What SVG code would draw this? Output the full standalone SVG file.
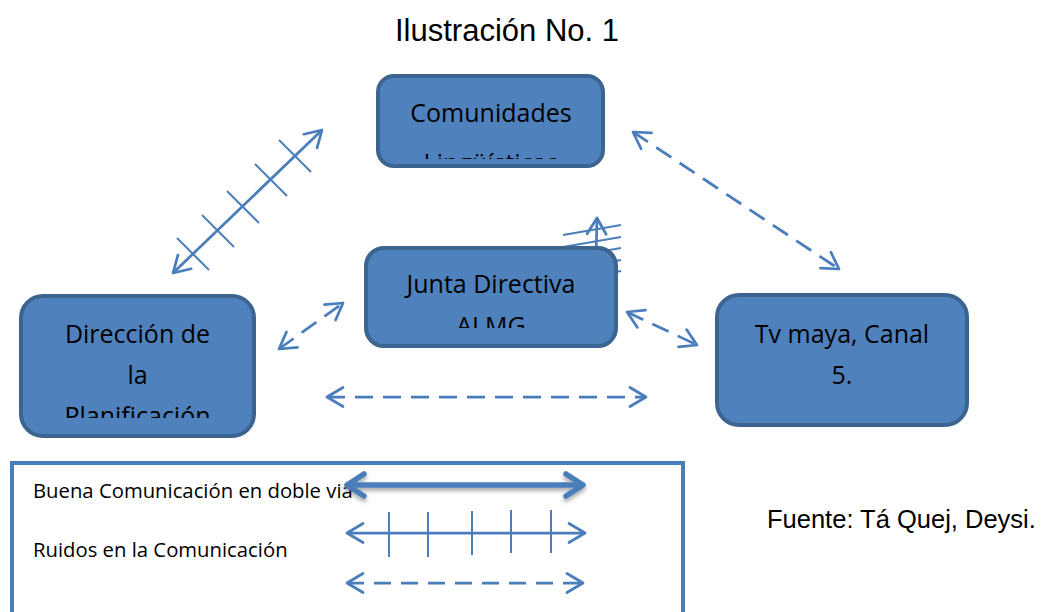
<svg xmlns="http://www.w3.org/2000/svg" width="1049" height="612" viewBox="0 0 1049 612">
<style>
.node rect{fill:#4f81bd;stroke:#3c6491;stroke-width:4}
.nt{font-family:"Open Sans","Noto Sans",sans-serif;font-size:25px;fill:#000;text-anchor:middle}
.lt{font-family:"Open Sans","Noto Sans",sans-serif;font-size:20.3px;fill:#000}
.ar{fill:none;stroke:#4a7ebb;stroke-width:2.75}
.dash{stroke-dasharray:18 10}
.tick{fill:none;stroke:#4a7ebb;stroke-width:2}
.ti{font-family:"Liberation Sans",Arial,sans-serif;fill:#000}
</style>
<defs>
<marker id="ah" markerUnits="userSpaceOnUse" markerWidth="40" markerHeight="40" viewBox="-20 -20 40 40" refX="0" refY="0" orient="auto-start-reverse" overflow="visible">
<path d="M-16,-9.5 L0,0 L-16,9.5" fill="none" stroke="#4a7ebb" stroke-width="2.75" stroke-linecap="round" stroke-linejoin="round"/>
</marker>
<marker id="ahb" markerUnits="userSpaceOnUse" markerWidth="50" markerHeight="50" viewBox="-25 -25 50 50" refX="0" refY="0" orient="auto-start-reverse" overflow="visible">
<path d="M-17,-11 L0,0 L-17,11" fill="none" stroke="#4a7ebb" stroke-width="5.5" stroke-linecap="round" stroke-linejoin="round"/>
</marker>
<filter id="sh" filterUnits="userSpaceOnUse" x="320" y="460" width="290" height="50">
<feDropShadow dx="0" dy="3" stdDeviation="2" flood-color="#000" flood-opacity="0.35"/>
</filter>
<clipPath id="c1"><rect x="378" y="76" width="225" height="83"/></clipPath>
<clipPath id="c2"><rect x="366" y="248" width="250" height="80"/></clipPath>
<clipPath id="c3"><rect x="21" y="296" width="233" height="122"/></clipPath>
</defs>

<text class="ti" x="507" y="41" font-size="31" text-anchor="middle">Ilustración No. 1</text>

<g id="connectors">
<line class="ar" x1="173" y1="273" x2="322" y2="130" marker-start="url(#ah)" marker-end="url(#ah)"/>
<g class="tick">
<line x1="177" y1="238" x2="209" y2="270"/>
<line x1="202" y1="215" x2="234" y2="247"/>
<line x1="227" y1="191" x2="259" y2="223"/>
<line x1="255" y1="164" x2="287" y2="196"/>
<line x1="279" y1="140" x2="311" y2="172"/>
</g>
<line class="ar" x1="595" y1="300" x2="597" y2="218" marker-end="url(#ah)"/>
<g class="tick">
<line x1="563" y1="235" x2="621" y2="225"/>
<line x1="563" y1="247" x2="621" y2="237"/>
<line x1="563" y1="258" x2="621" y2="248"/>
<line x1="563" y1="270" x2="621" y2="260"/>
<line x1="563" y1="281" x2="621" y2="271"/>
</g>
<line class="ar dash" x1="633" y1="132" x2="839" y2="269" marker-start="url(#ah)" marker-end="url(#ah)"/>
<line class="ar dash" x1="279" y1="349" x2="343" y2="303" marker-start="url(#ah)" marker-end="url(#ah)"/>
<line class="ar dash" x1="627" y1="312" x2="697" y2="345" marker-start="url(#ah)" marker-end="url(#ah)"/>
<line class="ar dash" x1="327" y1="397" x2="646" y2="397" marker-start="url(#ah)" marker-end="url(#ah)"/>
</g>

<g id="n-comunidades" class="node">
<rect x="378" y="76" width="225" height="90" rx="16"/>
<g clip-path="url(#c1)">
<text class="nt" x="491" y="122">Comunidades</text>
<text class="nt" x="491" y="172">Lingüísticas</text>
</g>
</g>

<g id="n-junta" class="node">
<rect x="366" y="248" width="250" height="98" rx="18"/>
<g clip-path="url(#c2)">
<text class="nt" x="491" y="293">Junta Directiva</text>
<text class="nt" x="491" y="335">ALMG</text>
</g>
</g>

<g id="n-direccion" class="node">
<rect x="21" y="296" width="233" height="140" rx="22"/>
<g clip-path="url(#c3)">
<text class="nt" x="137.5" y="343">Dirección de</text>
<text class="nt" x="137.5" y="384">la</text>
<text class="nt" x="137.5" y="425">Planificación</text>
</g>
</g>

<g id="n-tv" class="node">
<rect x="717" y="295" width="250" height="130" rx="22"/>
<text class="nt" x="842" y="343">Tv maya, Canal</text>
<text class="nt" x="842" y="384">5.</text>
</g>

<g id="legend">
<rect x="12" y="463" width="671" height="160" fill="#fff" stroke="#4a7ebb" stroke-width="4"/>
<text class="lt" x="33" y="498">Buena Comunicación en doble via</text>
<text class="lt" x="33" y="557">Ruidos en la Comunicación</text>
<path d="M347,485 L583,485" fill="none" stroke="#4a7ebb" stroke-width="5.5" marker-start="url(#ahb)" marker-end="url(#ahb)" filter="url(#sh)"/>
<line class="ar" x1="347" y1="533" x2="585" y2="533" marker-start="url(#ah)" marker-end="url(#ah)"/>
<g class="tick">
<line x1="389" y1="512" x2="389" y2="557"/>
<line x1="428" y1="512" x2="428" y2="557"/>
<line x1="472" y1="511" x2="472" y2="555"/>
<line x1="511" y1="510" x2="511" y2="553"/>
<line x1="551" y1="510" x2="551" y2="553"/>
</g>
<line class="ar" x1="347" y1="583" x2="583" y2="583" stroke-dasharray="17 10" marker-start="url(#ah)" marker-end="url(#ah)"/>
</g>

<text class="ti" x="767" y="528" font-size="25.5">Fuente: Tá Quej, Deysi.</text>
</svg>
